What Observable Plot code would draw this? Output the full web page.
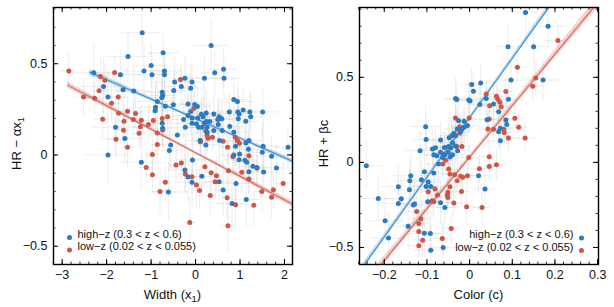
<!DOCTYPE html>
<html><head><meta charset="utf-8">
<script src="https://cdn.jsdelivr.net/npm/d3@7"></script>
<script src="https://cdn.jsdelivr.net/npm/@observablehq/plot@0.6"></script>
<style>
body{margin:0;background:#fff;}
#wrap{display:flex;width:614px;height:307px;font-family:"Liberation Sans",Arial,sans-serif;}
</style></head><body><div id="wrap"></div>
<script>
// ---- data: [x, y, xErr, yErr] ----
const highZWidth = [
[-1.20,0.67,0.45,0.12],[0.35,0.60,0.40,0.14],[-0.73,0.56,0.35,0.12],[-1.52,0.54,0.50,0.15],[-1.00,0.49,0.40,0.13],
[0.63,0.47,0.30,0.11],[-1.16,0.46,0.45,0.14],[-0.70,0.46,0.38,0.10],[0.43,0.45,0.32,0.12],[-2.29,0.45,0.55,0.16],
[-1.69,0.44,0.48,0.13],[-0.98,0.44,0.36,0.12],[-0.70,0.44,0.30,0.09],[0.20,0.42,0.42,0.13],[0.64,0.42,0.35,0.10],
[-0.24,0.42,0.40,0.12],[-0.08,0.40,0.33,0.11],[-0.47,0.40,0.45,0.14],[-2.07,0.375,0.52,0.15],[-0.32,0.375,0.38,0.10],
[-0.11,0.366,0.30,0.12],[-1.63,0.357,0.46,0.13],[-0.49,0.353,0.35,0.11],[-1.39,0.35,0.42,0.14],[-0.75,0.344,0.40,0.12],
[-0.74,0.326,0.28,0.09],[-1.97,0.317,0.50,0.15],[-0.76,0.313,0.35,0.11],[0.86,0.304,0.30,0.12],[0.94,0.293,0.36,0.10],
[-0.86,0.293,0.44,0.13],[-0.02,0.277,0.32,0.11],[-0.17,0.28,0.40,0.12],[-0.68,0.267,0.37,0.10],[-0.90,0.262,0.42,0.14],
[-0.50,0.275,0.33,0.09],[0.04,0.266,0.30,0.10],[1.51,0.236,0.34,0.13],[1.22,0.236,0.30,0.11],[0.95,0.236,0.28,0.10],
[1.07,0.247,0.32,0.12],[0.98,0.225,0.30,0.09],[1.24,0.21,0.35,0.12],[0.76,0.236,0.33,0.11],[0.41,0.225,0.29,0.10],
[0.24,0.23,0.36,0.12],[0.13,0.223,0.31,0.09],[-0.11,0.238,0.40,0.13],[-0.17,0.216,0.34,0.10],[-0.91,0.242,0.46,0.14],
[-0.27,0.194,0.38,0.11],[-0.08,0.203,0.30,0.10],[0.05,0.203,0.27,0.09],[0.17,0.21,0.33,0.12],[0.53,0.21,0.30,0.10],
[0.50,0.194,0.36,0.11],[0.59,0.198,0.28,0.09],[0.96,0.198,0.32,0.12],[1.13,0.185,0.30,0.10],[0.32,0.183,0.35,0.11],
[0.02,0.17,0.29,0.10],[0.20,0.174,0.31,0.09],[0.24,0.183,0.27,0.10],[-0.08,0.174,0.34,0.12],[0.15,0.152,0.30,0.11],
[0.07,0.152,0.28,0.10],[0.26,0.152,0.33,0.09],[-0.23,0.152,0.37,0.12],[0.51,0.167,0.30,0.10],[0.77,0.156,0.32,0.11],
[0.86,0.125,0.29,0.10],[0.60,0.134,0.34,0.12],[0.41,0.134,0.30,0.09],[0.26,0.123,0.28,0.10],[-0.75,0.174,0.40,0.13],
[-0.74,0.147,0.36,0.11],[-1.80,0.152,0.50,0.15],[-1.59,0.09,0.45,0.14],[-0.41,0.11,0.38,0.12],[0.10,0.079,0.30,0.11],
[0.54,0.079,0.33,0.10],[1.13,0.066,0.31,0.12],[1.20,0.079,0.29,0.10],[1.52,0.048,0.35,0.13],[2.08,0.042,0.30,0.12],
[0.90,0.048,0.32,0.11],[1.19,0.031,0.28,0.10],[0.23,0.055,0.34,0.12],[-0.56,0.055,0.40,0.13],[-0.59,0.024,0.37,0.11],
[-1.97,0.0,0.52,0.16],[0.86,0.0,0.30,0.11],[0.98,-0.026,0.33,0.12],[1.11,-0.029,0.29,0.10],[1.50,0.015,0.34,0.12],
[1.71,-0.007,0.31,0.11],[0.99,0.005,0.27,0.09],[1.15,-0.04,0.32,0.12],[1.29,-0.062,0.30,0.10],[1.38,-0.068,0.28,0.11],
[1.53,-0.093,0.35,0.13],[1.20,-0.092,0.31,0.12],[1.82,-0.071,0.33,0.12],[-0.07,-0.027,0.36,0.12],[-1.22,-0.04,0.48,0.15],
[0.14,-0.117,0.34,0.13],[-0.24,-0.082,0.38,0.12],[-0.17,-0.12,0.35,0.14],[0.53,-0.146,0.31,0.13],[0.91,-0.156,0.33,0.14],
[0.62,-0.192,0.30,0.15],[-0.61,-0.203,0.42,0.16],[0.82,-0.266,0.34,0.16],[1.14,-0.244,0.32,0.15],[-0.08,-0.15,0.37,0.14]
];
const lowZWidth = [
[-2.85,0.46,0.20,0.10],[-1.82,0.452,0.18,0.09],[-2.14,0.43,0.22,0.10],[-2.04,0.41,0.19,0.09],[-0.34,0.414,0.15,0.08],
[-2.52,0.317,0.21,0.10],[-2.27,0.311,0.20,0.09],[-2.17,0.352,0.18,0.08],[-1.74,0.317,0.17,0.09],[-1.89,0.284,0.20,0.10],
[-1.53,0.24,0.16,0.08],[-1.35,0.227,0.18,0.09],[-1.73,0.229,0.19,0.10],[-2.09,0.196,0.21,0.11],[-1.61,0.185,0.17,0.09],
[-1.22,0.19,0.16,0.08],[-0.75,0.2,0.15,0.09],[-0.63,0.21,0.14,0.08],[-1.06,0.167,0.18,0.10],[-1.40,0.194,0.17,0.09],
[-1.62,0.136,0.19,0.10],[-1.27,0.119,0.16,0.08],[-0.86,0.121,0.15,0.09],[-0.74,0.137,0.14,0.08],[-0.95,0.189,0.16,0.09],
[-1.24,0.154,0.18,0.10],[-1.53,0.042,0.20,0.11],[-1.79,0.086,0.19,0.10],[-0.86,0.057,0.15,0.09],[-0.97,0.002,0.16,0.10],
[-1.11,-0.068,0.17,0.11],[-0.97,-0.108,0.15,0.10],[-0.68,-0.15,0.14,0.11],[-0.80,-0.2,0.16,0.12],[-0.04,0.255,0.13,0.08],
[0.23,0.132,0.14,0.09],[0.11,0.079,0.12,0.08],[0.28,0.092,0.13,0.09],[0.38,0.097,0.14,0.08],[0.62,0.075,0.15,0.09],
[0.89,0.097,0.13,0.08],[0.94,0.079,0.14,0.09],[0.99,0.064,0.12,0.08],[0.72,0.042,0.15,0.10],[0.84,-0.009,0.14,0.09],
[1.20,-0.004,0.16,0.10],[1.38,-0.073,0.15,0.09],[0.21,-0.064,0.13,0.10],[0.35,-0.097,0.14,0.09],[0.47,-0.114,0.13,0.10],
[0.44,-0.147,0.15,0.11],[0.74,-0.086,0.14,0.09],[1.04,-0.095,0.13,0.10],[1.20,-0.132,0.15,0.11],[0.02,-0.165,0.14,0.12],
[0.09,-0.194,0.13,0.11],[0.33,-0.222,0.15,0.12],[0.71,-0.234,0.14,0.12],[0.90,-0.273,0.16,0.13],[1.31,-0.275,0.15,0.12],
[1.49,-0.2,0.14,0.11],[1.71,-0.231,0.16,0.12],[1.75,-0.19,0.15,0.11],[1.97,-0.156,0.17,0.12],[-0.13,-0.37,0.15,0.14],
[0.73,-0.388,0.16,0.15],[-0.32,-0.044,0.14,0.10],[-0.44,-0.055,0.15,0.10],[-0.23,-0.104,0.14,0.11],[-0.08,-0.119,0.13,0.10],
[0.26,0.107,0.13,0.09],[0.11,0.073,0.14,0.08]
];
const highZColor = [
[0.131,0.88,0.03,0.12],[0.184,0.80,0.04,0.13],[0.090,0.68,0.03,0.12],[0.150,0.68,0.035,0.14],[0.097,0.484,0.03,0.11],
[0.172,0.484,0.04,0.12],[0.005,0.457,0.025,0.10],[0.026,0.467,0.03,0.11],[0.009,0.418,0.025,0.10],[0.039,0.376,0.03,0.11],
[-0.033,0.376,0.03,0.12],[-0.030,0.369,0.025,0.10],[-0.002,0.367,0.03,0.11],[0.001,0.361,0.025,0.10],[0.091,0.371,0.035,0.12],
[0.024,0.34,0.03,0.10],[0.056,0.343,0.03,0.11],[0.068,0.298,0.025,0.10],[0.041,0.251,0.03,0.11],[0.085,0.249,0.03,0.10],
[0.087,0.222,0.035,0.12],[0.072,0.2,0.03,0.11],[-0.013,0.241,0.025,0.10],[-0.026,0.245,0.03,0.11],[-0.013,0.206,0.025,0.10],
[-0.005,0.216,0.03,0.09],[-0.018,0.196,0.025,0.10],[-0.029,0.196,0.03,0.11],[-0.021,0.182,0.025,0.09],[-0.037,0.171,0.03,0.10],
[-0.033,0.157,0.025,0.11],[-0.042,0.157,0.03,0.10],[-0.048,0.145,0.025,0.09],[-0.103,0.21,0.035,0.12],[-0.102,0.135,0.03,0.11],
[-0.068,0.131,0.03,0.10],[-0.080,0.086,0.025,0.10],[-0.059,0.088,0.03,0.09],[-0.087,0.078,0.025,0.11],[-0.050,0.094,0.03,0.10],
[-0.044,0.086,0.025,0.09],[-0.040,0.116,0.03,0.10],[-0.033,0.096,0.025,0.09],[-0.068,0.059,0.03,0.10],[-0.063,0.029,0.025,0.11],
[-0.058,0.045,0.03,0.10],[-0.077,0.039,0.025,0.09],[-0.084,0.045,0.03,0.10],[-0.046,0.031,0.025,0.09],[-0.040,0.045,0.03,0.10],
[-0.028,0.069,0.025,0.09],[-0.116,0.069,0.035,0.11],[-0.050,0.059,0.03,0.10],[-0.073,-0.01,0.03,0.11],[-0.106,-0.055,0.035,0.12],
[-0.084,-0.063,0.03,0.11],[-0.097,-0.116,0.03,0.12],[-0.102,-0.141,0.035,0.11],[-0.091,-0.141,0.03,0.12],[-0.113,-0.102,0.035,0.11],
[-0.138,-0.078,0.04,0.12],[-0.140,-0.108,0.035,0.11],[-0.167,-0.143,0.04,0.13],[-0.141,-0.161,0.035,0.12],[-0.160,-0.214,0.04,0.13],
[-0.167,-0.241,0.04,0.12],[-0.129,-0.245,0.035,0.13],[-0.132,-0.251,0.035,0.12],[-0.098,-0.231,0.03,0.12],[-0.068,-0.237,0.03,0.13],
[-0.058,-0.265,0.03,0.12],[-0.242,-0.02,0.045,0.14],[-0.214,-0.212,0.04,0.13],[-0.198,-0.343,0.045,0.14],[-0.190,-0.445,0.04,0.15],
[-0.144,-0.375,0.04,0.14],[-0.106,-0.416,0.035,0.14],[-0.092,-0.418,0.035,0.13],[-0.091,-0.516,0.04,0.15],[-0.062,-0.5,0.035,0.14],
[0.036,-0.157,0.03,0.12],[0.021,-0.078,0.03,0.11],[0.068,0.18,0.03,0.10],[0.072,0.127,0.03,0.11]
];
const lowZColor = [
[0.207,0.716,0.03,0.10],[0.112,0.559,0.025,0.09],[0.155,0.496,0.03,0.10],[0.148,0.447,0.025,0.09],[0.085,0.416,0.02,0.08],
[0.039,0.402,0.02,0.08],[0.063,0.388,0.02,0.09],[0.066,0.371,0.025,0.08],[0.071,0.353,0.02,0.08],[0.047,0.333,0.02,0.09],
[0.074,0.327,0.025,0.08],[-0.033,0.261,0.02,0.08],[-0.001,0.261,0.02,0.09],[0.046,0.255,0.02,0.08],[0.056,0.194,0.02,0.08],
[0.043,0.196,0.025,0.09],[0.106,0.259,0.025,0.09],[0.115,0.206,0.025,0.08],[0.130,0.143,0.03,0.09],[0.091,0.143,0.02,0.08],
[0.081,0.175,0.02,0.08],[0.080,0.194,0.025,0.09],[-0.023,0.21,0.02,0.08],[-0.023,0.173,0.02,0.08],[-0.018,0.094,0.02,0.08],
[-0.030,0.094,0.02,0.09],[-0.046,0.088,0.02,0.08],[-0.062,0.047,0.02,0.08],[-0.056,0.012,0.02,0.09],[-0.063,-0.01,0.02,0.08],
[-0.002,0.029,0.02,0.08],[0.046,0.033,0.02,0.09],[0.046,-0.024,0.02,0.08],[0.063,-0.014,0.025,0.09],[0.023,-0.037,0.02,0.08],
[-0.021,-0.082,0.02,0.09],[-0.016,-0.088,0.02,0.08],[-0.005,-0.078,0.02,0.08],[-0.049,-0.039,0.02,0.09],[-0.046,-0.069,0.02,0.08],
[-0.035,-0.073,0.02,0.09],[-0.029,-0.108,0.02,0.08],[-0.019,-0.171,0.02,0.09],[-0.046,-0.143,0.02,0.09],[-0.051,-0.176,0.02,0.08],
[-0.052,-0.192,0.02,0.09],[-0.051,-0.206,0.02,0.09],[-0.081,-0.157,0.02,0.09],[-0.088,-0.225,0.025,0.09],[-0.084,-0.231,0.02,0.10],
[-0.075,-0.192,0.02,0.09],[-0.037,-0.239,0.02,0.09],[-0.007,-0.261,0.02,0.10],[0.029,-0.265,0.02,0.09],[-0.097,-0.173,0.025,0.09],
[-0.124,-0.288,0.025,0.10],[-0.114,-0.331,0.025,0.10],[-0.119,-0.359,0.025,0.11],[-0.119,-0.406,0.025,0.10],[-0.110,-0.457,0.025,0.11],
[-0.119,-0.49,0.025,0.11],[-0.064,-0.447,0.02,0.10],[-0.043,-0.388,0.02,0.10]
];
// fitted relations: slope, intercept, x-range, mean x, band widths
const widthFits = [
  {slope:-0.107, intercept:0.199, xMin:-2.385, xMax:2.2, xMean:0.2, se0:0.007, seSlope:0.006},
  {slope:-0.129, intercept:0.012, xMin:-2.88, xMax:2.2, xMean:-0.3, se0:0.008, seSlope:0.006}
];
const colorFits = [
  {slope:3.5, intercept:0.262, xMin:-0.26, xMax:0.20, xMean:-0.03, se0:0.01, seSlope:0.08},
  {slope:3.03, intercept:0.03, xMin:-0.26, xMax:0.31, xMean:0.0, se0:0.014, seSlope:0.10}
];
const seriesNames = ["high\u2212z (0.3 < z < 0.6)", "low\u2212z (0.02 < z < 0.055)"];
const seriesColors = ["#2a7bbf", "#cf5547"];
const lineColors = ["#4597d6", "#dc6e62"];
const widthTicks = [-3,-2,-1,0,1,2];
const colorTicks = [-0.2,-0.1,0,0.1,0.2,0.3];
const hrTicks = [-0.5,0,0.5];

const fmt = d => d < 0 ? "\u2212" + String(Math.abs(d)) : String(d);

function panel(o){
  const W=307, H=307, mt=7, mb=43, ml=o.ml, mr=o.mr;
  const innerH = H-mt-mb, innerW = W-ml-mr;
  const series = [o.data[1], o.data[0]].map((arr)=>arr.map(([x,y,ex,ey])=>({x,y,ex,ey})));
  const sIdx = [1,0];
  const bands = o.fits.map(f => d3.range(0,61).map(k=>{
    const x = f.xMin + (f.xMax-f.xMin)*k/60;
    const y = f.intercept + f.slope*x;
    const h = Math.hypot(f.se0, f.seSlope*(x-f.xMean));
    return {x, y, y1:y-h, y2:y+h};
  }));
  const marks = [];
  for (const pts of series) {
    marks.push(Plot.ruleY(pts, {y:"y", x1:d=>d.x-d.ex, x2:d=>d.x+d.ex, stroke:"#bdbdbd", strokeOpacity:0.28, strokeWidth:1, clip:true}));
    marks.push(Plot.ruleX(pts, {x:"x", y1:d=>d.y-d.ey, y2:d=>d.y+d.ey, stroke:"#bdbdbd", strokeOpacity:0.28, strokeWidth:1, clip:true}));
  }
  bands.forEach((b,i)=>{
    marks.push(Plot.areaY(b, {x:"x", y1:"y1", y2:"y2", fill:lineColors[i], fillOpacity:0.3, clip:true}));
    marks.push(Plot.line(b, {x:"x", y:"y", stroke:lineColors[i], strokeWidth:1.3, clip:true}));
  });
  series.forEach((pts,j)=>{
    marks.push(Plot.dot(pts, {x:"x", y:"y", r:2.5, fill:seriesColors[sIdx[j]], stroke:null, clip:true}));
  });
  const tk = (vals, len, w) => [
    Plot.tickX(vals, {x:d=>d, insetTop: innerH-len, stroke:"#000", strokeWidth:w}),
    Plot.tickX(vals, {x:d=>d, insetBottom: innerH-len, stroke:"#000", strokeWidth:w})
  ];
  const tky = (vals, len, w) => [
    Plot.tickY(vals, {y:d=>d, insetRight: innerW-len, stroke:"#000", strokeWidth:w}),
    Plot.tickY(vals, {y:d=>d, insetLeft: innerW-len, stroke:"#000", strokeWidth:w})
  ];
  marks.push(...tk(o.xMinor, 2.5, 0.8), ...tk(o.xTicks, 5, 1), ...tky(o.yMinor, 2.5, 0.8), ...tky(o.yTicks, 5, 1));
  marks.push(Plot.frame({stroke:"#000", strokeWidth:1.4}));
  marks.push(Plot.axisX(o.xTicks, {tickSize:0, tickPadding:6, tickFormat:fmt, fontSize:12.5, label:null}));
  marks.push(Plot.axisY(o.yTicks, {tickSize:0, tickPadding:6, tickFormat:fmt, fontSize:12.5, label:null}));
  o.legend.forEach((L,i)=>{
    marks.push(Plot.dot([0], {frameAnchor:L.anchor, dx:L.dotDx, dy:L.dy[i], r:2.5, fill:seriesColors[i], stroke:null}));
    marks.push(Plot.text([seriesNames[i]], {text:d=>d, frameAnchor:L.anchor, dx:L.textDx, dy:L.dy[i], textAnchor:L.textAnchor, fontSize:11, fill:"#111"}));
  });
  const svg = Plot.plot({
    width:W, height:H, marginTop:mt, marginBottom:mb, marginLeft:ml, marginRight:mr,
    x:{domain:o.xDomain}, y:{domain:o.yDomain},
    style:{fontFamily:'"Liberation Sans", Arial, sans-serif', fontSize:"12px", color:"#111", background:"#fff"},
    marks
  });
  const s = d3.select(svg);
  const xt = s.append("text").attr("x", ml+innerW/2).attr("y", 299).attr("text-anchor","middle")
    .attr("font-size",13).attr("fill","#111");
  o.xTitle.forEach(p => xt.append("tspan").attr("baseline-shift", p.sub?"-25%":null).attr("font-size", p.sub?9.5:null).text(p.t));
  const yt = s.append("text").attr("transform",`translate(${o.yTitleX},${mt+innerH/2+8}) rotate(-90)`).attr("text-anchor","middle")
    .attr("font-size",13).attr("fill","#111");
  o.yTitle.forEach(p => yt.append("tspan").attr("baseline-shift", p.sub?"-25%":null).attr("font-size", p.sub?9.5:null).text(p.t));
  return svg;
}

const leftLegend = {anchor:"bottom-left", dotDx:16, textDx:24, textAnchor:"start", dy:[-27,-14.5]};
const rightLegend = {anchor:"bottom-right", dotDx:-17, textDx:-25, textAnchor:"end", dy:[-26.5,-14]};
const wrap = document.getElementById("wrap");
wrap.append(panel({
  data:[highZWidth, lowZWidth], fits:widthFits, ml:53, mr:15,
  xDomain:[-3.195, 2.18], yDomain:[-0.6, 0.808],
  xTicks:widthTicks, xMinor:d3.range(-3.2, 2.2, 0.2).map(v=>+v.toFixed(2)),
  yTicks:hrTicks, yMinor:d3.range(-0.6, 0.81, 0.1).map(v=>+v.toFixed(2)),
  xTitle:[{t:"Width (x"},{t:"1",sub:true},{t:")"}],
  yTitle:[{t:"HR \u2212 \u03b1x"},{t:"1",sub:true}], yTitleX:21,
  legend:[leftLegend, leftLegend]
}));
wrap.append(panel({
  data:[highZColor, lowZColor], fits:colorFits, ml:52, mr:16,
  xDomain:[-0.258, 0.302], yDomain:[-0.6, 0.91],
  xTicks:colorTicks, xMinor:d3.range(-0.26, 0.31, 0.02).map(v=>+v.toFixed(2)),
  yTicks:hrTicks, yMinor:d3.range(-0.6, 0.91, 0.1).map(v=>+v.toFixed(2)),
  xTitle:[{t:"Color (c)"}],
  yTitle:[{t:"HR + \u03b2c"}], yTitleX:21,
  legend:[rightLegend, rightLegend]
}));
</script></body></html>
